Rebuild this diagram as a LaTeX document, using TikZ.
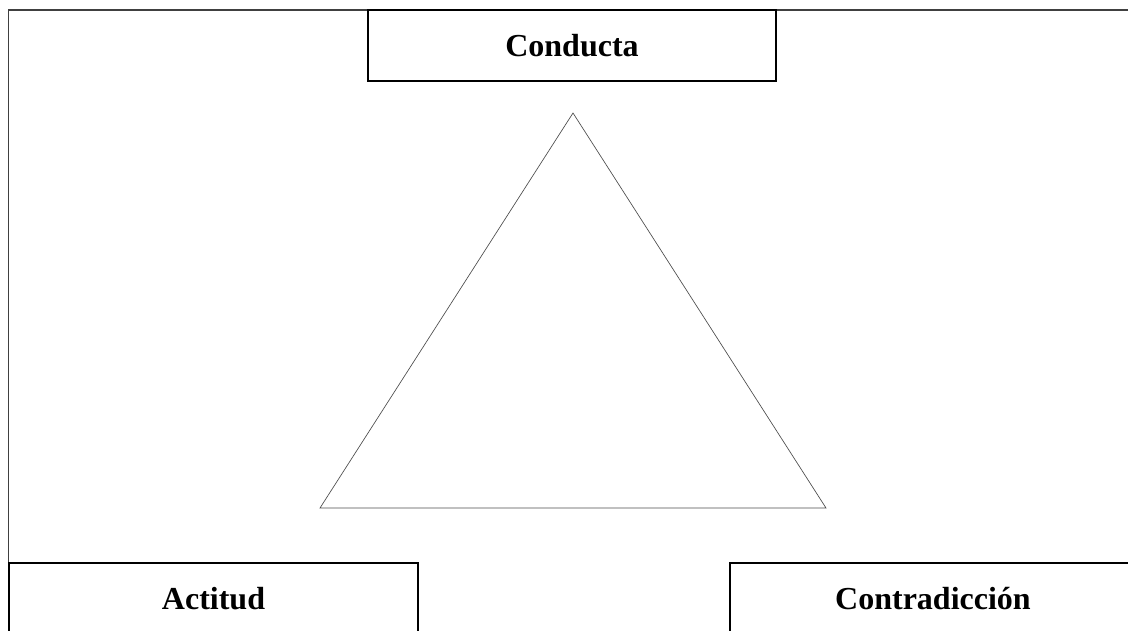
\documentclass[tikz,border=0pt]{standalone}
\usepackage{fontspec}
\setmainfont{Liberation Serif}
\usepackage{tikz}
\usetikzlibrary{positioning,calc}
\tikzstyle{line} = [draw,line width=1.2pt]

\begin{document}
\begin{tikzpicture}[x=0.75pt,y=-0.75pt,
                box/.style = {draw, line width=1.4pt, minimum height=53.25pt,
                  inner sep=0pt, outer sep=0pt,
                  font=\fontsize{24}{28}\selectfont\bfseries}]
                \useasboundingbox (0,0) rectangle (1128,631);
                \clip (0,0) rectangle (1128,631);
                \path[line, draw=black!75] (8.5,10) rectangle (1140,660);
                \node[box, minimum width=306pt, fill=white] (conducta) at (572,45.5) {Conducta};
                \node[box, minimum width=306.75pt, fill=white] (actitud) at (213.5,598.5) {Actitud};
                \node[box, minimum width=304.5pt, fill=white] (contra) at (933,598.5) {Contradicción};
                \coordinate (apex) at (573,113);
                \coordinate (left) at (320,508);
                \coordinate (right) at (826,508);
                \draw[draw=black!70, line width=0.5pt] (apex) -- (right) -- (left) -- cycle;
            \end{tikzpicture}
\end{document}
